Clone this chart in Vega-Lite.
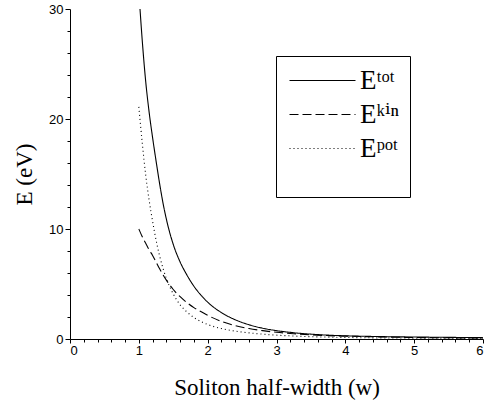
{
 "$schema": "https://vega.github.io/schema/vega-lite/v6.json",
 "width": 413, "height": 330,
 "autosize": {"type": "none"},
 "padding": {"left": 70, "top": 9, "right": 3, "bottom": 67},
 "config": {
  "view": {"stroke": null},
  "axis": {"domainColor": "black", "tickColor": "black", "labelColor": "black", "titleColor": "black", "grid": false,
   "labelFont": "Liberation Sans", "labelFontSize": 13, "titleFont": "Liberation Serif", "titleFontSize": 23, "titleFontWeight": "normal"}
 },
 "data": {"values": [
  {"series": "tot", "w": 1.017, "E": 30.0},
  {"series": "tot", "w": 1.05, "E": 27.1},
  {"series": "tot", "w": 1.1, "E": 23.4},
  {"series": "tot", "w": 1.15, "E": 20.6},
  {"series": "tot", "w": 1.2, "E": 18.3},
  {"series": "tot", "w": 1.25, "E": 16.2},
  {"series": "tot", "w": 1.3, "E": 14.2},
  {"series": "tot", "w": 1.35, "E": 12.4},
  {"series": "tot", "w": 1.4, "E": 10.9},
  {"series": "tot", "w": 1.5, "E": 8.6},
  {"series": "tot", "w": 1.6, "E": 7.0},
  {"series": "tot", "w": 1.7, "E": 5.8},
  {"series": "tot", "w": 1.8, "E": 4.8},
  {"series": "tot", "w": 1.9, "E": 4.0},
  {"series": "tot", "w": 2.0, "E": 3.35},
  {"series": "tot", "w": 2.2, "E": 2.4},
  {"series": "tot", "w": 2.4, "E": 1.75},
  {"series": "tot", "w": 2.6, "E": 1.3},
  {"series": "tot", "w": 2.8, "E": 0.98},
  {"series": "tot", "w": 3.0, "E": 0.76},
  {"series": "tot", "w": 3.25, "E": 0.57},
  {"series": "tot", "w": 3.5, "E": 0.44},
  {"series": "tot", "w": 3.75, "E": 0.35},
  {"series": "tot", "w": 4.0, "E": 0.29},
  {"series": "tot", "w": 4.5, "E": 0.22},
  {"series": "tot", "w": 5.0, "E": 0.18},
  {"series": "tot", "w": 5.5, "E": 0.15},
  {"series": "tot", "w": 6.0, "E": 0.12},
  {"series": "kin", "w": 1.0, "E": 10.0},
  {"series": "kin", "w": 1.05, "E": 9.3},
  {"series": "kin", "w": 1.1, "E": 8.7},
  {"series": "kin", "w": 1.15, "E": 8.1},
  {"series": "kin", "w": 1.2, "E": 7.6},
  {"series": "kin", "w": 1.25, "E": 7.0},
  {"series": "kin", "w": 1.3, "E": 6.4},
  {"series": "kin", "w": 1.35, "E": 5.85},
  {"series": "kin", "w": 1.4, "E": 5.35},
  {"series": "kin", "w": 1.5, "E": 4.5},
  {"series": "kin", "w": 1.6, "E": 3.85},
  {"series": "kin", "w": 1.7, "E": 3.3},
  {"series": "kin", "w": 1.8, "E": 2.85},
  {"series": "kin", "w": 1.9, "E": 2.5},
  {"series": "kin", "w": 2.0, "E": 2.15},
  {"series": "kin", "w": 2.2, "E": 1.6},
  {"series": "kin", "w": 2.4, "E": 1.22},
  {"series": "kin", "w": 2.6, "E": 0.95},
  {"series": "kin", "w": 2.8, "E": 0.76},
  {"series": "kin", "w": 3.0, "E": 0.61},
  {"series": "kin", "w": 3.25, "E": 0.48},
  {"series": "kin", "w": 3.5, "E": 0.38},
  {"series": "kin", "w": 3.75, "E": 0.31},
  {"series": "kin", "w": 4.0, "E": 0.26},
  {"series": "kin", "w": 4.5, "E": 0.19},
  {"series": "kin", "w": 5.0, "E": 0.14},
  {"series": "kin", "w": 5.5, "E": 0.11},
  {"series": "kin", "w": 6.0, "E": 0.09},
  {"series": "pot", "w": 1.0, "E": 21.1},
  {"series": "pot", "w": 1.05, "E": 17.8},
  {"series": "pot", "w": 1.1, "E": 14.9},
  {"series": "pot", "w": 1.15, "E": 12.6},
  {"series": "pot", "w": 1.2, "E": 10.7},
  {"series": "pot", "w": 1.25, "E": 9.0},
  {"series": "pot", "w": 1.3, "E": 7.6},
  {"series": "pot", "w": 1.35, "E": 6.45},
  {"series": "pot", "w": 1.4, "E": 5.5},
  {"series": "pot", "w": 1.5, "E": 4.1},
  {"series": "pot", "w": 1.6, "E": 3.1},
  {"series": "pot", "w": 1.7, "E": 2.45},
  {"series": "pot", "w": 1.8, "E": 1.95},
  {"series": "pot", "w": 1.9, "E": 1.6},
  {"series": "pot", "w": 2.0, "E": 1.32},
  {"series": "pot", "w": 2.2, "E": 0.95},
  {"series": "pot", "w": 2.4, "E": 0.72},
  {"series": "pot", "w": 2.6, "E": 0.56},
  {"series": "pot", "w": 2.8, "E": 0.44},
  {"series": "pot", "w": 3.0, "E": 0.35},
  {"series": "pot", "w": 3.25, "E": 0.27},
  {"series": "pot", "w": 3.5, "E": 0.21},
  {"series": "pot", "w": 3.75, "E": 0.17},
  {"series": "pot", "w": 4.0, "E": 0.14},
  {"series": "pot", "w": 4.5, "E": 0.1},
  {"series": "pot", "w": 5.0, "E": 0.08},
  {"series": "pot", "w": 5.5, "E": 0.06},
  {"series": "pot", "w": 6.0, "E": 0.05}
 ]},
 "layer": [
  {
   "mark": {"type": "line", "strokeWidth": 1.1, "color": "black", "interpolate": "monotone"},
   "encoding": {
    "x": {"field": "w", "type": "quantitative", "scale": {"domain": [0, 6], "nice": false, "zero": false},
     "axis": {"values": [0, 1, 2, 3, 4, 5, 6], "title": "Soliton half-width (w)", "tickSize": 4, "labelPadding": 1, "titlePadding": 19, "orient": "bottom"}},
    "y": {"field": "E", "type": "quantitative", "scale": {"domain": [0, 30], "nice": false},
     "axis": {"values": [0, 10, 20, 30], "title": "E (eV)", "tickSize": 5, "labelPadding": 2, "titlePadding": 12, "orient": "left"}},
    "strokeDash": {"field": "series", "type": "nominal",
     "scale": {"domain": ["tot", "kin", "pot"], "range": [[1, 0], [9, 4], [1, 3]]},
     "legend": {"title": "\u00a0", "titleOrient": "bottom", "titleFont": "Liberation Serif", "titleFontSize": 16, "titlePadding": 8,
      "orient": "none", "legendX": 206, "legendY": 47, "strokeColor": "black", "padding": 11,
      "symbolType": "M-3,0H3", "symbolSize": 484, "symbolOffset": 22, "symbolStrokeColor": "black", "symbolStrokeWidth": 1.1,
      "labelFont": "Liberation Serif, DejaVu Serif", "labelFontSize": 27, "labelColor": "black", "rowPadding": 6, "labelOffset": 24,
      "labelExpr": "datum.value == 'tot' ? 'Eᵗᵒᵗ\u00a0\u00a0' : datum.value == 'kin' ? 'Eᵏⁱⁿ\u00a0\u00a0' : 'Eᵖᵒᵗ\u00a0\u00a0'"}}
   }
  },
  {
   "mark": {"type": "point", "opacity": 0},
   "encoding": {
    "x": {"field": "w", "type": "quantitative",
     "axis": {"orient": "bottom", "values": [0.2,0.4,0.6,0.8,1.2,1.4,1.6,1.8,2.2,2.4,2.6,2.8,3.2,3.4,3.6,3.8,4.2,4.4,4.6,4.8,5.2,5.4,5.6,5.8], "labels": false, "domain": false, "tickSize": 3, "title": null}},
    "y": {"field": "E", "type": "quantitative",
     "axis": {"orient": "left", "values": [2,4,6,8,12,14,16,18,22,24,26,28], "labels": false, "domain": false, "tickSize": 3, "title": null}}
   }
  }
 ],
 "resolve": {"axis": {"x": "independent", "y": "independent"}}
}
